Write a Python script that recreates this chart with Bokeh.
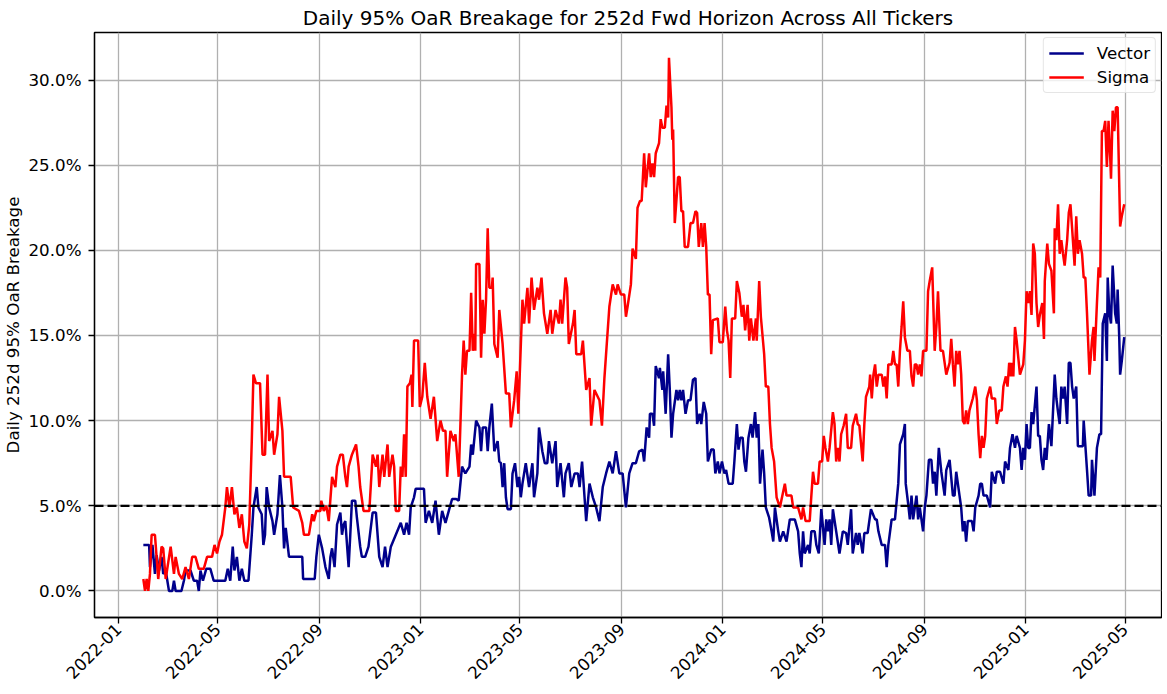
import pandas as pd
from math import pi
from bokeh.plotting import figure
from bokeh.models import (Range1d, NumeralTickFormatter, SingleIntervalTicker,
                          DatetimeTickFormatter, MonthsTicker, Span)
from bokeh.embed import file_html
from bokeh.resources import INLINE

# ---------------- data ----------------
START = "2022-01-01"          # day offsets below are counted from this date
TITLE = "Daily 95% OaR Breakage for 252d Fwd Horizon Across All Tickers"
Y_LABEL = "Daily 252d 95% OaR Breakage"
SERIES_NAMES = ["Vector", "Sigma"]
THRESHOLD_PCT = 5.0
X_START, X_END = "2021-12-03", "2025-06-14"
Y_MIN_PCT, Y_MAX_PCT = -1.56, 32.79

vector_day = [30, 37, 38, 41, 44, 46, 49, 52, 54, 57, 61, 65, 67, 69, 76, 79, 81, 87, 91, 95, 97, 99, 102, 106, 111, 115, 121, 129, 132, 135, 138, 140, 143, 146, 149, 152, 157, 161, 163, 167, 169, 173, 175, 177, 179, 182, 186, 188, 192, 195, 198, 200, 202, 206, 222,
              223, 237, 239, 242, 246, 250, 254, 256, 258, 261, 264, 268, 270, 272, 274, 278, 280, 282, 286, 288, 292, 294, 298, 302, 307, 311, 315, 319, 322, 325, 329, 335, 341, 345, 348, 351, 353, 357, 359, 369, 371, 375, 379, 383, 387, 391, 395, 399, 403, 408,
              411, 415, 419, 424, 426, 428, 432, 436, 438, 440, 444, 446, 448, 451, 454, 458, 460, 462, 464, 466, 468, 470, 474, 476, 479, 482, 484, 486, 488, 492, 496, 500, 502, 506, 508, 512, 515, 518, 520, 524, 528, 530, 534, 538, 540, 544, 547, 551, 555, 557, 560, 563, 565, 569, 573, 577, 581, 585, 589, 593, 597, 601, 605, 609, 613, 617, 621, 625, 629,
              633, 635, 638, 641, 642, 645, 647, 649, 653, 654, 657, 658, 661, 664, 666, 668, 670, 674, 676, 678, 680, 682, 685, 688, 691, 694, 697, 699, 702, 704, 707, 710, 712, 716, 719, 721, 724, 726, 729, 732, 734, 737, 742, 744, 747, 749, 751, 754, 756, 758, 761, 764, 766, 769, 771, 773, 775, 778, 780, 782, 786, 789, 791, 793, 797, 799, 803, 807,
              811, 817, 821, 823, 825, 827, 829, 833, 835, 837, 841, 843, 846, 849, 853, 855, 857, 859, 861, 863, 867, 871, 875, 879, 881, 885, 887, 891, 893, 895, 899, 901, 905, 909, 914, 916, 918, 922, 926, 928, 930, 934, 938, 942, 944, 948, 950, 951, 954, 956, 958, 960, 964, 966, 968, 970, 972, 974, 976, 979, 982, 984, 986, 988, 991, 994, 996, 998, 1000, 1004,
              1008, 1010, 1012, 1014, 1016, 1018, 1020, 1022, 1024, 1026, 1031, 1033, 1035, 1039, 1041, 1043, 1045, 1049, 1053, 1055, 1059, 1061, 1065, 1069, 1071, 1075, 1077, 1080, 1083, 1085, 1089, 1091, 1093, 1095, 1097, 1099, 1101, 1103, 1105, 1109, 1111,
              1113, 1115, 1117, 1119, 1121, 1124, 1127, 1131, 1133, 1135, 1137, 1139, 1141, 1143, 1146, 1148, 1150, 1152, 1154, 1157, 1159, 1165, 1166, 1170, 1172, 1175, 1176, 1179, 1182, 1185, 1187, 1189, 1192, 1194, 1195, 1197, 1199, 1201, 1204, 1206, 1207, 1209, 1210, 1212, 1215]
vector_pct = [2.7, 2.7, 1.4, 2.7, 1.0, 2.1, 1.2, 2.0, 1.0, 1.2, 0.0, 0.0, 0.6, 0.0, 0.0, 0.6, 1.2, 1.2, 0.6, 0.6, 0.0, 1.2, 0.6, 1.3, 1.3, 0.6, 0.6, 0.6, 1.3, 0.6, 2.6, 1.2, 2.0, 0.6, 1.3, 0.6, 0.6, 3.3, 4.9, 6.1, 4.9, 4.5, 2.7, 3.3, 6.1, 4.9, 4.1, 3.3, 4.5, 6.8, 4.9, 2.5, 3.7, 2.0, 2.0,
              0.7, 0.7, 2.0, 3.3, 2.5, 1.4, 0.7, 2.0, 2.5, 1.4, 3.9, 4.6, 3.3, 3.9, 4.1, 1.4, 3.3, 5.3, 5.3, 4.3, 2.6, 2.0, 2.0, 2.6, 4.6, 4.6, 2.0, 1.4, 2.6, 1.4, 2.6, 3.3, 4.0, 3.3, 4.0, 3.3, 4.9, 5.5, 6.0, 6.0, 4.0, 4.7, 4.0, 5.3, 3.3, 4.7, 4.0, 4.7, 5.4, 5.4,
              5.3, 7.3, 6.9, 7.3, 8.6, 8.0, 10.0, 9.6, 8.2, 9.6, 9.6, 8.2, 9.6, 11.0, 8.2, 8.8, 7.6, 7.5, 6.1, 7.5, 5.5, 4.8, 4.8, 6.9, 7.5, 6.1, 6.7, 5.5, 6.3, 7.5, 6.1, 7.5, 5.5, 6.9, 9.6, 8.2, 7.5, 7.5, 8.8, 7.5, 8.8, 6.1, 7.5, 5.5, 6.9, 7.5, 6.1, 6.9, 6.9, 6.1, 7.6, 5.5, 4.1, 6.3, 5.5, 4.9, 4.1, 6.1, 6.9, 7.6, 6.9, 8.2, 6.9, 6.9, 4.9, 6.9, 7.5, 7.5, 8.2,
              8.3, 7.6, 9.6, 9.0, 10.4, 10.4, 9.7, 13.2, 12.5, 13.1, 11.8, 12.9, 10.4, 13.9, 11.8, 9.0, 10.4, 11.8, 11.2, 11.8, 11.2, 11.8, 10.4, 11.2, 11.2, 12.4, 12.5, 9.8, 10.4, 9.8, 11.1, 10.4, 7.6, 8.3, 8.3, 6.9, 7.6, 6.9, 7.6, 6.9, 7.1, 6.3, 6.3, 7.6, 9.8, 8.3, 9.0, 9.0, 7.6, 7.0, 9.0, 9.8, 9.0, 10.5, 9.0, 9.8, 6.3, 8.3, 6.9, 4.9, 4.3, 3.5, 2.9, 4.9, 3.5, 2.9, 3.5, 2.9,
              4.2, 4.2, 3.5, 2.2, 1.4, 3.5, 2.2, 2.7, 2.2, 3.5, 3.5, 2.7, 2.2, 4.8, 2.7, 4.2, 3.5, 4.2, 2.7, 4.8, 3.5, 2.2, 3.5, 3.4, 2.7, 4.8, 2.2, 3.4, 2.7, 3.4, 2.2, 3.4, 3.4, 4.8, 4.2, 4.2, 3.5, 2.7, 2.7, 1.4, 2.7, 4.2, 4.2, 6.3, 8.6, 9.2, 9.8, 6.3, 5.1, 4.2, 5.6, 4.2, 5.6, 4.2, 4.9, 4.2, 3.5, 4.9, 5.6, 7.7, 7.7, 6.3, 7.0, 5.6, 8.4, 7.0, 6.3, 5.6, 7.1, 7.7,
              5.6, 5.6, 7.0, 6.3, 5.6, 4.9, 3.5, 4.1, 2.9, 4.1, 4.1, 3.5, 4.9, 5.6, 6.3, 6.3, 5.6, 5.6, 4.9, 7.0, 6.3, 7.0, 7.0, 6.3, 7.6, 7.1, 8.4, 9.2, 8.4, 9.1, 8.4, 7.1, 8.4, 7.7, 9.8, 8.4, 8.4, 10.5, 9.8, 12.0, 9.1,
              9.1, 7.7, 7.1, 8.4, 7.7, 9.8, 8.5, 12.7, 11.3, 10.5, 9.8, 12.0, 11.3, 12.0, 9.8, 13.4, 13.4, 12.0, 11.3, 12.0, 8.5, 8.5, 10.0, 7.1, 5.6, 5.6, 7.7, 5.6, 8.4, 9.2, 9.2, 15.7, 16.3, 13.5, 18.4, 16.3, 15.7, 19.1, 16.3, 15.7, 17.7, 14.8, 12.7, 13.5, 14.9]

sigma_day = [30, 32, 34, 36, 38, 40, 44, 48, 52, 54, 57, 63, 67, 69, 73, 77, 81, 85, 89, 93, 97, 103, 107, 113, 116, 119, 122, 125, 129, 131, 134, 137, 140, 143, 146, 149, 152, 155, 158, 161, 163, 166, 171, 174, 177, 180, 182, 186, 188, 192, 194, 198, 200, 208, 211, 218, 222, 224,
             230, 234, 236, 239, 244, 245, 248, 251, 254, 258, 262, 264, 268, 271, 274, 276, 278, 282, 287, 290, 292, 296, 303, 307, 311, 313, 315, 319, 321, 325, 327, 331, 333, 335, 339, 341, 343, 345, 347, 349, 352, 354, 355, 357, 362, 364, 367, 370, 373, 377, 381, 383, 385, 389, 392, 395, 397, 401, 405, 407, 411,
             415, 417, 419, 421, 424, 426, 428, 430, 431, 432, 436, 438, 440, 442, 444, 446, 448, 451, 452, 454, 458, 460, 464, 468, 472, 474, 478, 481, 483, 488, 490, 494, 496, 499, 502, 506, 508, 511, 514, 518, 522, 524, 528, 532, 534, 536, 540, 542, 544, 549, 551, 553, 559, 561, 565, 569, 571, 575, 581, 584, 587, 589, 593, 597, 601, 603, 607, 611, 613, 615, 619, 621, 625, 627,
             630, 632, 635, 637, 641, 643, 645, 647, 649, 653, 655, 657, 660, 662, 664, 665, 668, 669, 670, 672, 676, 678, 680, 682, 684, 688, 691, 694, 697, 699, 701, 704, 706, 708, 710, 712, 714, 716, 718, 724, 726, 730, 733, 735, 737, 739, 741, 745, 747, 750, 753, 755, 757, 760, 762, 764, 767, 770, 771, 774, 776, 780, 782, 785, 787, 789, 792, 795, 799, 802, 805, 807,
             813, 815, 821, 825, 827, 830, 835, 837, 839, 841, 845, 847, 850, 852, 854, 857, 859, 863, 865, 867, 869, 871, 873, 876, 879, 881, 885, 887, 891, 893, 895, 899, 901, 903, 907, 908, 910, 912, 914, 916, 918, 922, 924, 926, 928, 930, 934, 936, 938, 940, 942, 944, 946, 948, 950, 953, 956, 958, 960, 962, 964, 966, 968, 970, 972, 976, 978, 980, 983, 986, 988, 990, 993, 996, 1000, 1004,
             1006, 1008, 1010, 1012, 1014, 1016, 1018, 1020, 1022, 1024, 1026, 1028, 1032, 1035, 1037, 1039, 1041, 1043, 1045, 1047, 1049, 1053, 1055, 1059, 1061, 1064, 1067, 1069, 1072, 1074, 1076, 1078, 1079, 1081, 1083, 1085, 1089, 1093, 1095, 1097, 1099, 1101, 1103, 1105, 1107, 1109, 1111,
             1113, 1116, 1118, 1119, 1122, 1124, 1127, 1130, 1131, 1133, 1135, 1137, 1139, 1141, 1143, 1146, 1148, 1150, 1152, 1155, 1157, 1159, 1161, 1164, 1166, 1168, 1170, 1173, 1176, 1178, 1179, 1182, 1184, 1186, 1188, 1190, 1192, 1194, 1196, 1198, 1199, 1201, 1203, 1205, 1207, 1210, 1212, 1215]
sigma_pct = [0.7, 0.0, 0.7, 0.0, 1.0, 3.3, 3.3, 0.7, 2.6, 2.5, 0.7, 2.6, 1.0, 2.0, 1.0, 0.7, 1.4, 0.7, 2.0, 2.0, 1.3, 1.3, 2.0, 2.0, 2.7, 2.2, 2.9, 3.3, 4.9, 6.1, 4.9, 6.1, 4.5, 4.9, 3.7, 4.5, 2.9, 2.5, 3.9, 8.8, 12.7, 12.2, 12.2, 8.0, 8.0, 12.7, 8.8, 9.4, 8.0, 9.2, 11.4, 9.4, 6.7, 6.7, 4.9, 4.7, 4.0, 3.3,
             3.3, 4.5, 4.1, 4.7, 4.7, 5.3, 4.7, 5.0, 4.1, 6.7, 6.1, 7.3, 8.0, 8.0, 6.7, 6.1, 7.3, 8.0, 8.6, 7.3, 6.1, 4.7, 4.7, 8.0, 7.3, 8.0, 6.1, 8.0, 6.7, 8.6, 6.7, 8.0, 7.3, 4.7, 4.7, 7.3, 6.7, 9.2, 6.7, 12.0, 12.2, 12.7, 10.8, 14.7, 14.7, 10.8, 11.4, 13.4, 11.4, 10.1, 11.4, 10.1, 8.8, 10.0, 9.4, 9.4, 6.7, 9.4, 8.8, 9.2, 6.7,
             12.7, 14.7, 12.7, 14.1, 14.1, 17.5, 14.1, 15.1, 14.1, 19.2, 19.2, 13.7, 17.1, 15.1, 17.1, 21.3, 17.8, 17.8, 18.4, 14.5, 13.7, 16.5, 14.5, 11.6, 11.6, 9.6, 11.2, 12.9, 10.4, 17.1, 15.7, 17.8, 15.7, 18.4, 16.5, 17.8, 17.1, 18.4, 16.3, 15.1, 16.5, 15.1, 16.5, 15.7, 17.1, 15.7, 18.4, 17.8, 14.5, 15.7, 16.5, 13.9, 13.9, 14.7, 11.8, 12.5, 9.7, 11.8, 11.2, 9.7, 12.5, 13.9, 16.7, 18.0, 17.4, 18.0, 17.4, 17.4, 16.1, 16.7, 18.0, 20.1, 19.5, 22.5,
             22.9, 22.9, 25.7, 23.7, 25.7, 24.3, 25.1, 24.3, 25.7, 26.3, 27.7, 27.2, 27.2, 28.5, 27.8, 31.3, 28.4, 26.5, 27.1, 21.6, 24.3, 24.3, 22.3, 22.3, 20.2, 20.2, 21.6, 21.6, 22.3, 22.2, 20.2, 21.6, 20.2, 21.6, 20.2, 17.4, 17.4, 13.9, 15.9, 16.0, 14.6, 14.6, 16.7, 15.3, 14.7, 12.5, 16.0, 16.0, 18.2, 17.5, 16.1, 16.8, 15.3, 16.8, 14.7, 16.0, 14.7, 16.0, 14.7, 18.2, 16.1, 13.9, 12.0, 12.0, 9.8, 8.4, 7.6, 5.5, 4.9, 5.6, 6.3, 5.6,
             5.6, 4.9, 4.9, 4.2, 4.9, 4.1, 4.1, 5.6, 7.0, 6.3, 6.3, 7.6, 7.6, 9.1, 8.4, 7.6, 8.4, 10.5, 9.8, 7.6, 8.4, 7.6, 9.2, 9.7, 10.4, 8.4, 8.4, 9.7, 10.4, 9.8, 9.7, 7.6, 9.8, 11.4, 12.0, 12.7, 11.3, 12.7, 13.3, 12.0, 12.7, 12.7, 12.0, 12.6, 11.3, 13.3, 13.3, 14.1, 13.3, 13.3, 12.0, 14.1, 15.5, 17.0, 14.9, 14.1, 14.1, 12.6, 12.0, 13.3, 13.3, 12.7, 13.3, 12.6, 14.1, 14.1, 17.6, 18.2, 19.0, 14.1, 15.5, 17.6, 14.1, 14.1, 12.7, 13.4,
             14.8, 13.3, 12.0, 14.1, 13.3, 14.1, 12.7, 10.0, 9.8, 10.6, 9.8, 10.6, 11.3, 12.0, 11.2, 9.2, 7.8, 9.1, 8.4, 9.1, 11.3, 12.0, 11.3, 11.3, 9.8, 10.6, 10.6, 12.0, 12.6, 12.0, 13.4, 12.6, 13.4, 12.6, 15.5, 14.7, 12.7, 13.3, 14.7, 17.6, 16.9, 17.6, 16.2, 20.4, 19.8, 16.9, 15.5,
             16.2, 16.9, 14.8, 18.2, 20.4, 19.2, 18.8, 16.3, 21.3, 20.6, 22.7, 19.8, 20.6, 19.8, 19.1, 20.6, 22.2, 22.7, 21.3, 19.1, 22.0, 19.8, 20.6, 19.8, 18.4, 18.4, 16.3, 12.7, 14.7, 15.5, 13.5, 16.9, 19.0, 18.4, 27.0, 27.0, 27.6, 24.9, 27.6, 25.5, 24.2, 28.2, 27.0, 28.4, 28.4, 21.4, 22.0, 22.7]

# ---------------- build ----------------
start = pd.Timestamp(START)
vec_x = start + pd.to_timedelta(vector_day, unit="D")
sig_x = start + pd.to_timedelta(sigma_day, unit="D")
vec_y = [v / 100.0 for v in vector_pct]
sig_y = [v / 100.0 for v in sigma_pct]

FONT = "DejaVu Sans"

p = figure(width=1162, height=687, x_axis_type="datetime",
           output_backend="svg", toolbar_location=None,
           x_range=Range1d(pd.Timestamp(X_START), pd.Timestamp(X_END)),
           y_range=Range1d(Y_MIN_PCT / 100.0, Y_MAX_PCT / 100.0),
           min_border_left=94, min_border_right=1,
           min_border_top=32, min_border_bottom=60,
           background_fill_color="white", border_fill_color="white")

p.title.text = TITLE
p.title.align = "center"
p.title.text_font = FONT
p.title.text_font_size = "20px"
p.title.text_font_style = "normal"
p.title.text_color = "black"
p.title.standoff = 5

p.line(vec_x, vec_y, line_color="#00008b", line_width=2.5, legend_label=SERIES_NAMES[0])
p.line(sig_x, sig_y, line_color="#ff0000", line_width=2.5, legend_label=SERIES_NAMES[1])

p.add_layout(Span(location=THRESHOLD_PCT / 100.0, dimension="width",
                  line_color="black", line_dash="9 4", line_width=2.3))

# grid
for g in (p.xgrid, p.ygrid):
    g.grid_line_color = "#b0b0b0"
    g.grid_line_width = 1.3

p.outline_line_color = "black"
p.outline_line_width = 1.3
p.outline_line_alpha = 1.0

# axes
p.xaxis.ticker = MonthsTicker(months=[0, 4, 8])
p.xaxis.formatter = DatetimeTickFormatter(months="%Y-%m", days="%Y-%m",
                                          years="%Y-%m")
p.xaxis.major_label_orientation = pi / 4
p.yaxis.ticker = SingleIntervalTicker(interval=0.05, num_minor_ticks=0)
p.yaxis.formatter = NumeralTickFormatter(format="0.0%")
p.yaxis.axis_label = Y_LABEL

for ax in (p.xaxis[0], p.yaxis[0]):
    ax.axis_line_color = "black"
    ax.axis_line_width = 1.3
    ax.major_tick_line_color = "black"
    ax.major_tick_line_width = 1.3
    ax.major_tick_out = 6
    ax.major_tick_in = 0
    ax.minor_tick_line_color = None
    ax.major_label_text_font = FONT
    ax.major_label_text_font_size = "16.7px"
    ax.major_label_text_color = "black"
    ax.axis_label_text_font = FONT
    ax.axis_label_text_font_size = "16.7px"
    ax.axis_label_text_font_style = "normal"
    ax.axis_label_text_color = "black"

p.yaxis.major_label_standoff = 7
p.yaxis.axis_label_standoff = 2
p.xaxis.major_label_standoff = 3

# legend
lg = p.legend[0]
lg.location = "top_right"
lg.margin = 5
lg.padding = 5
lg.spacing = 4
lg.glyph_width = 35
lg.glyph_height = 20
lg.label_height = 20
lg.label_standoff = 13
lg.label_text_font = FONT
lg.label_text_font_size = "16.7px"
lg.label_text_color = "black"
lg.border_line_color = "#cccccc"
lg.border_line_width = 1.3
lg.background_fill_color = "white"
lg.background_fill_alpha = 0.8
lg.border_radius = 4

open("out.html", "w").write(file_html(p, INLINE))
